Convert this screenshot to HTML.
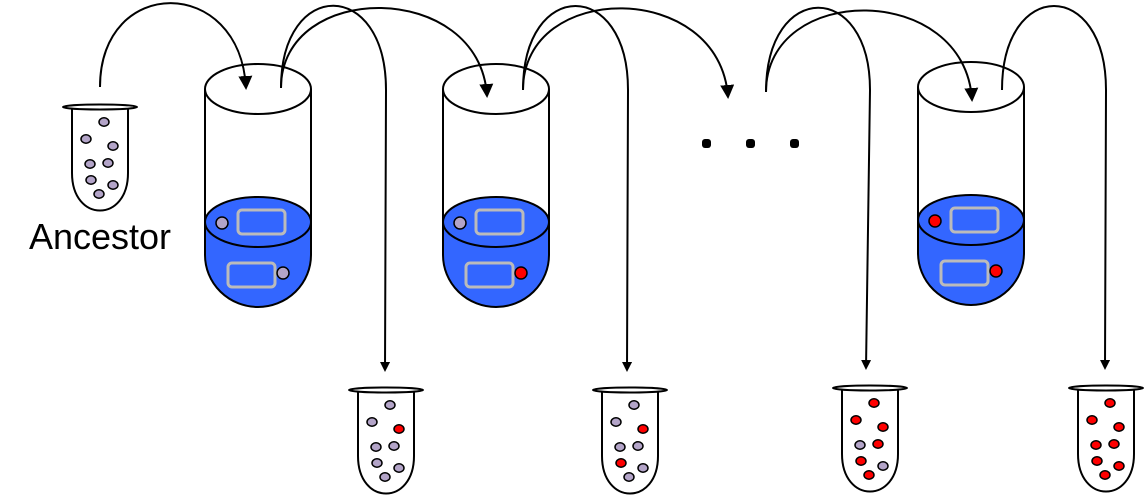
<!DOCTYPE html>
<html><head><meta charset="utf-8"><style>
body{margin:0;background:#fff;width:1144px;height:495px;overflow:hidden}
svg{display:block}
</style></head><body>
<svg id="s" width="1144" height="495" viewBox="0 0 1144 495" xmlns="http://www.w3.org/2000/svg">
<defs>
<marker id="a" markerWidth="10" markerHeight="10" refX="8" refY="5" orient="auto" markerUnits="userSpaceOnUse" viewBox="0 0 10 10"><path d="M0,0 L10,5 L0,10 z" fill="#000"/></marker>
<marker id="b" markerWidth="14" markerHeight="14" refX="12" refY="7" orient="auto" markerUnits="userSpaceOnUse" viewBox="0 0 14 14"><path d="M0,0 L14,7 L0,14 z" fill="#000"/></marker>
</defs>
<g id="tops">
<g fill="none" stroke="#000" stroke-width="2">
<path d="M100,87 C100,-25 240,-25 246,88" marker-end="url(#b)"/>
<path d="M281,88 C281,-22 386,-22 386,90 L385,370" marker-end="url(#a)"/>
<path d="M281,88 C281,-20 480,-20 487,96" marker-end="url(#b)"/>
<path d="M523,90 C523,-22 628,-22 628,90 L627,370" marker-end="url(#a)"/>
<path d="M523,90 C523,-20 720,-20 728,97" marker-end="url(#b)"/>
<path d="M766,92 C766,-20 870,-20 870,90 L866,368" marker-end="url(#a)"/>
<path d="M766,92 C766,-18 965,-18 972,100" marker-end="url(#b)"/>
<path d="M1002,90 C1002,-22 1106,-22 1106,90 L1105,368" marker-end="url(#a)"/>
</g>
<g fill="#000"><rect x="702" y="139" width="9" height="9" rx="3"/><rect x="746" y="139" width="9" height="9" rx="3"/><rect x="790" y="139" width="9" height="9" rx="3"/></g>
<text x="100" y="249" font-family="Liberation Sans, sans-serif" font-size="36" text-anchor="middle">Ancestor</text>
</g>
</svg>
<script>
const s=document.getElementById('s');const NS='http://www.w3.org/2000/svg';
function el(t,a){const e=document.createElementNS(NS,t);for(const k in a)e.setAttribute(k,a[k]);s.appendChild(e);return e;}
const G='#b3a4c8',R='#ff0000';
function beaker(cx,cy,ly,d1,d2){
 const x1=cx-53,x2=cx+53;
 el('path',{d:`M${x1},${cy} L${x1},${ly} M${x2},${cy} L${x2},${ly}`,stroke:'#000','stroke-width':2,fill:'none'});
 el('ellipse',{cx,cy,rx:53,ry:25,fill:'#fff',stroke:'#000','stroke-width':2});
 el('path',{d:`M${x1},${ly} L${x1},${ly+33} A53,52 0 0 0 ${x2},${ly+33} L${x2},${ly} Z`,fill:'#3366ff',stroke:'#000','stroke-width':2});
 el('ellipse',{cx,cy:ly,rx:53,ry:25,fill:'#3366ff',stroke:'#000','stroke-width':2});
 el('rect',{x:cx-20,y:ly-12,width:47,height:24,rx:4,fill:'none',stroke:'#bbb','stroke-width':3});
 el('rect',{x:cx-30,y:ly+41,width:47,height:24,rx:4,fill:'none',stroke:'#bbb','stroke-width':3});
 el('circle',{cx:cx-36,cy:ly+1,r:6,fill:d1,stroke:'#000','stroke-width':1.5});
 el('circle',{cx:cx+25,cy:ly+51,r:6,fill:d2,stroke:'#000','stroke-width':1.5});
}
beaker(258,89,222,G,G);beaker(496,89,222,G,R);beaker(971,87,220,R,R);
const off=[[4,15],[-14,32],[13,39],[-10,57],[8,56],[-9,73],[13,78],[-1,87]];
function tube(cx,ry,cols){
 el('path',{d:`M${cx-28},${ry} L${cx-28},${ry+66} C${cx-28},${ry+116} ${cx+28},${ry+116} ${cx+28},${ry+66} L${cx+28},${ry}`,fill:'#fff',stroke:'#000','stroke-width':2});
 el('ellipse',{cx,cy:ry,rx:37,ry:2.5,fill:'#fff',stroke:'#000','stroke-width':2});
 off.forEach((o,i)=>el('ellipse',{cx:cx+o[0],cy:ry+o[1],rx:5,ry:4.2,fill:cols[i]=='r'?R:G,stroke:'#000','stroke-width':1.5}));
}
tube(100,107,'gggggggg');
tube(386,390,'ggrggggg');
tube(630,390,'ggrggrgg');
tube(870,388,'rrrgrrgr');
tube(1106,388,'rrrrrrrr');
s.appendChild(document.getElementById('tops'));
</script>
</body></html>
